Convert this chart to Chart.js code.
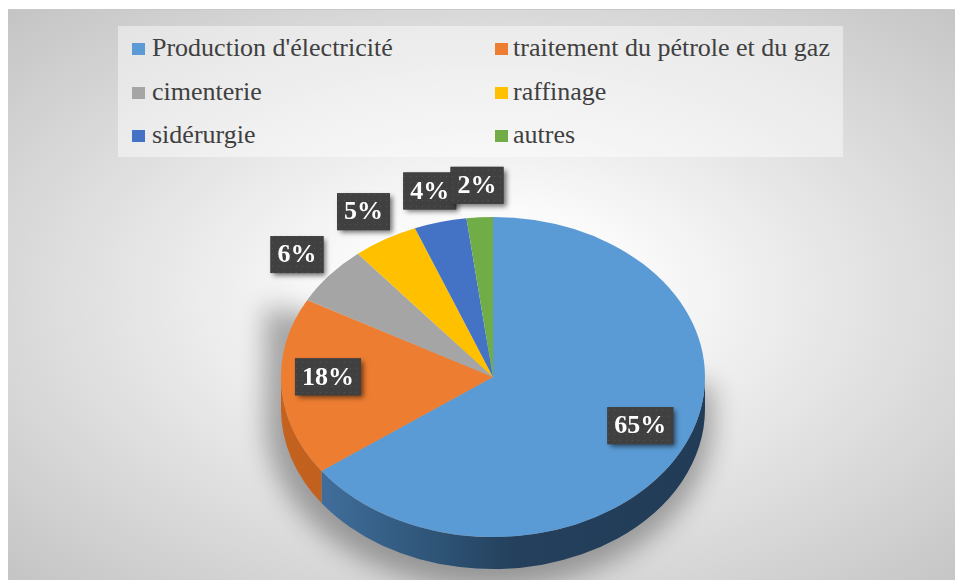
<!DOCTYPE html>
<html><head><meta charset="utf-8">
<script src="https://cdn.jsdelivr.net/npm/chart.js@4.4.1/dist/chart.umd.min.js"></script>
<style>
html,body{margin:0;padding:0;width:955px;height:580px;overflow:hidden;background:#fff;}
#bg{position:absolute;left:8px;top:9px;width:947px;height:571px;background:radial-gradient(ellipse farthest-corner at 51% 50%, #ffffff 0%, #fafafa 22%, #c4c4c4 100%);border-top:1px solid #c9c9c9;}
#wrap{position:absolute;left:0;top:0;width:955px;height:580px;}
#legend{position:absolute;left:118px;top:26px;width:725px;height:131px;background:rgba(255,255,255,0.45);}
.item{position:absolute;font-family:'Liberation Serif','Tinos','Times New Roman',serif;font-size:26px;color:#404040;line-height:30px;white-space:nowrap;}
.sw{position:absolute;width:13px;height:12px;}
</style></head>
<body>
<div id="bg"></div>
<div id="legend"></div>
<div id="wrap"><canvas id="c" width="955" height="580"></canvas></div>
<script>
const categories = ["Production d'électricité", "traitement du pétrole et du gaz", "cimenterie", "raffinage", "sidérurgie", "autres"];
const shares = [65, 18, 6, 5, 4, 2];

const colors = ['#5B9BD5', '#ED7D31', '#A5A5A5', '#FFC000', '#4472C4', '#70AD47'];
const sideStops = [
  [['0', '#4676a8'], ['0.35', '#2f5679'], ['0.55', '#24405c'], ['1', '#223c57']],
  [['0', '#c4621f'], ['1', '#a9561c']],
  [['0', '#7c7c7c'], ['1', '#6a6a6a']],
  [['0', '#bf9000'], ['1', '#a87f00']],
  [['0', '#335796'], ['1', '#2b4a80']],
  [['0', '#548235'], ['1', '#4a732f']]
];
const GEO = { cy: 377, K: 0.755, depth: 32 };
const FONT = "'Liberation Serif', 'Tinos', 'Times New Roman', serif";

// HTML legend (2 columns, row-major)
const leg = document.getElementById('legend');
categories.forEach((name, i) => {
  const col = i % 2, row = Math.floor(i / 2);
  const sw = document.createElement('div');
  sw.className = 'sw';
  sw.style.background = colors[i];
  sw.style.left = (col ? 377 : 14) + 'px';
  sw.style.top = (17 + row * 43.5) + 'px';
  leg.appendChild(sw);
  const t = document.createElement('div');
  t.className = 'item';
  t.textContent = name;
  t.style.left = (col ? 395 : 34) + 'px';
  t.style.top = (7 + row * 43.5) + 'px';
  leg.appendChild(t);
});

// dotted pattern for label boxes
const pc = document.createElement('canvas');
pc.width = 6; pc.height = 6;
const pctx = pc.getContext('2d');
pctx.fillStyle = '#404040'; pctx.fillRect(0, 0, 6, 6);
pctx.fillStyle = '#545454'; pctx.fillRect(2, 2, 1, 1);

const tilt3d = {
  id: 'tilt3d',
  beforeDatasetsDraw(chart) {
    const ctx = chart.ctx;
    const arcs = chart.getDatasetMeta(0).data;
    const cx = arcs[0].x, cy0 = arcs[0].y, r = arcs[0].outerRadius;
    const K = GEO.K, d = GEO.depth / K;
    // soft cast shadow (shape drawn off-canvas, only its blurred shadow lands here)
    const OFF = 4000, scx = cx - 4 - OFF, sr = r + 12, sby = GEO.cy + GEO.depth + 10;
    ctx.save();
    ctx.shadowColor = 'rgba(0,0,0,0.32)'; ctx.shadowBlur = 26; ctx.shadowOffsetX = OFF; ctx.shadowOffsetY = 0;
    ctx.beginPath();
    ctx.moveTo(scx - sr, GEO.cy - 70);
    ctx.lineTo(scx + sr, GEO.cy + 10);
    ctx.lineTo(scx + sr, sby);
    ctx.ellipse(scx, sby, sr, sr * K, 0, 0, Math.PI);
    ctx.closePath();
    ctx.fillStyle = '#000';
    ctx.fill();
    ctx.restore();

    ctx.save();
    ctx.translate(cx, GEO.cy); ctx.scale(1, K); ctx.translate(-cx, -cy0);
    // visible front sides
    arcs.forEach((a, i) => {
      [[0, Math.PI], [2 * Math.PI, 3 * Math.PI]].forEach(([lo, hi]) => {
        const a0 = Math.max(a.startAngle, lo), a1 = Math.min(a.endAngle, hi);
        if (a1 <= a0) return;
        ctx.beginPath();
        ctx.arc(cx, cy0, r, a0, a1);
        ctx.arc(cx, cy0 + d, r, a1, a0, true);
        ctx.closePath();
        const g = ctx.createLinearGradient(cx - r, 0, cx + r, 0);
        sideStops[i].forEach(([o, c]) => g.addColorStop(+o, c));
        ctx.fillStyle = g;
        ctx.fill();
      });
    });
  },
  afterDatasetsDraw(chart) {
    const ctx = chart.ctx;
    ctx.restore();
    const arcs = chart.getDatasetMeta(0).data;
    const cx = arcs[0].x, r = arcs[0].outerRadius;
    const total = shares.reduce((s, v) => s + v, 0);
    const pattern = ctx.createPattern(pc, 'repeat');
    arcs.forEach((a, i) => {
      const pct = shares[i] / total;
      const mid = (a.startAngle + a.endAngle) / 2;
      const outside = pct < 0.1;
      const f = outside ? 1.2 : 0.78;
      const lx = cx + r * f * Math.cos(mid);
      const ly = GEO.cy + (outside ? 0 : -8) + r * GEO.K * f * Math.sin(mid);
      const txt = Math.round(pct * 100) + '%';
      ctx.font = "bold 26px " + FONT;
      const w = ctx.measureText(txt).width + 14, h = 37;
      ctx.save();
      ctx.shadowColor = 'rgba(0,0,0,0.55)'; ctx.shadowBlur = 5; ctx.shadowOffsetX = 3; ctx.shadowOffsetY = 3;
      ctx.fillStyle = '#404040';
      ctx.fillRect(lx - w / 2, ly - h / 2, w, h);
      ctx.restore();
      ctx.fillStyle = pattern;
      ctx.fillRect(lx - w / 2, ly - h / 2, w, h);
      ctx.fillStyle = '#ffffff';
      ctx.textAlign = 'center';
      ctx.textBaseline = 'middle';
      ctx.fillText(txt, lx, ly + 1);
    });
  }
};

new Chart(document.getElementById('c'), {
  type: 'pie',
  data: {
    labels: categories,
    datasets: [{
      data: shares,
      backgroundColor: colors,
      borderWidth: 0,
      clip: false
    }]
  },
  options: {
    responsive: false,
    animation: false,
    events: [],
    layout: { padding: { left: 281, right: 250, top: 78, bottom: 78 } },
    plugins: { legend: { display: false }, tooltip: { enabled: false } }
  },
  plugins: [tilt3d]
});
</script>
</body></html>
